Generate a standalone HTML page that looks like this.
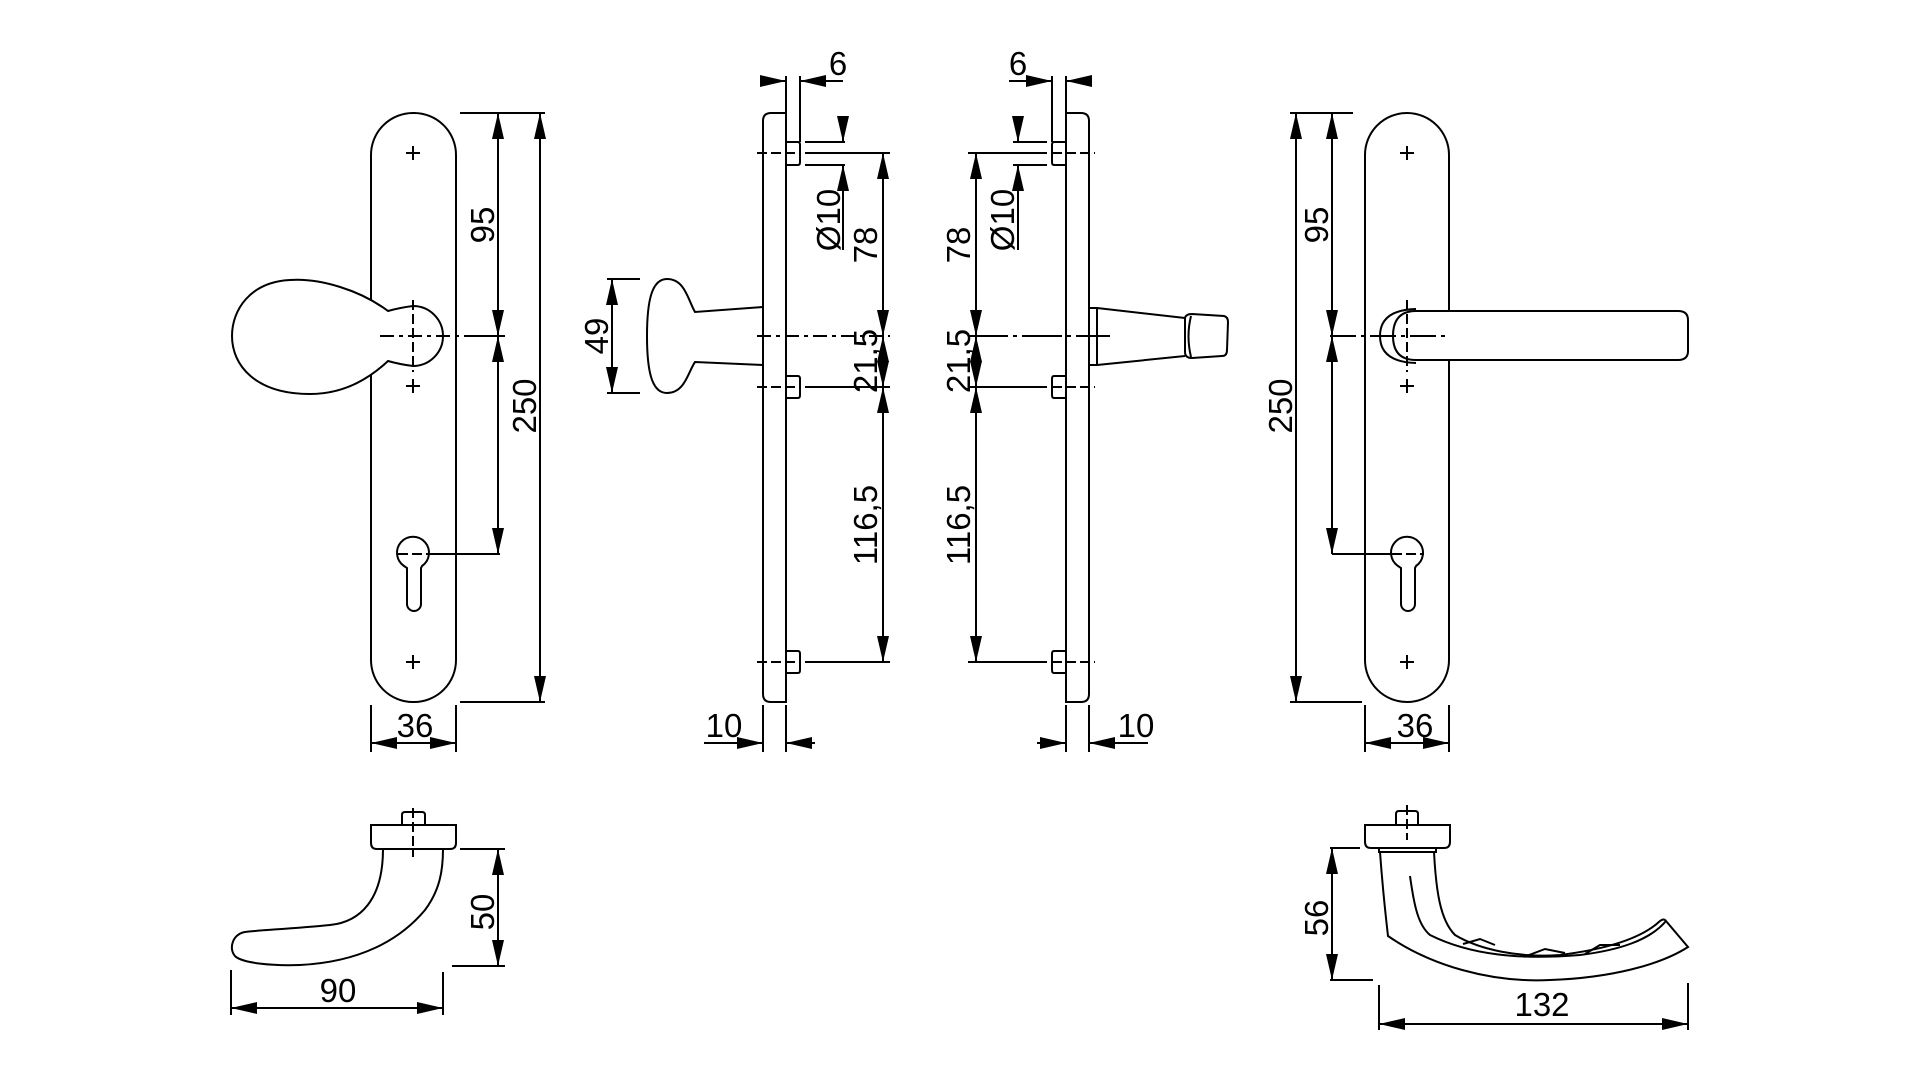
<!DOCTYPE html>
<html><head><meta charset="utf-8"><style>
html,body{margin:0;padding:0;background:#fff;}
svg{display:block}
text{font-family:"Liberation Sans",sans-serif;font-size:33px;fill:#000}
</style></head><body>
<svg width="1920" height="1080" viewBox="0 0 1920 1080" xmlns="http://www.w3.org/2000/svg">
<defs>
<marker id="a" markerUnits="userSpaceOnUse" markerWidth="30" markerHeight="14" refX="26" refY="6" orient="auto-start-reverse">
<path d="M0,0 L26,6 L0,12 Z" fill="#000"/>
</marker>
</defs>
<g fill="none" stroke="#000" stroke-width="2">

<!-- LEFT FRONT PLATE -->
<rect x="371" y="113" width="85" height="589" rx="42" ry="42"/>
<path d="M406,153h14M413,146v14M406,386h14M413,379v14M406,662h14M413,655v14"/>
<path d="M404,566 A16,16 0 1 1 422,566 L421,568 V604 A7,7 0 0 1 407,604 V568 Z"/>
<path d="M398,554h32" stroke-dasharray="10,4"/>
<!-- knob -->
<path d="M388,311 C360,290 320,278 290,280 C250,282 232,310 232,336 C232,365 255,394 310,394 C345,394 370,378 388,361 C395,363 405,365 413,366 A30,30 0 0 0 413,306 C405,307 395,309 388,311 Z" fill="#fff"/>
<path d="M380,336 H470" stroke-dasharray="14,5,4,5"/>
<path d="M413,300 V372" stroke-dasharray="10,4"/>
<!-- dims -->
<path d="M460,113 H545 M460,702 H545 M430,554 H500 M470,336 H505"/>
<path d="M498,113 V336" marker-start="url(#a)" marker-end="url(#a)"/>
<path d="M498,336 V554" marker-start="url(#a)" marker-end="url(#a)"/>
<path d="M540,113 V702" marker-start="url(#a)" marker-end="url(#a)"/>
<path d="M371,705 V752 M456,705 V752"/>
<path d="M371,743 H456" marker-start="url(#a)" marker-end="url(#a)"/>

<!-- MIDDLE LEFT SIDE VIEW -->
<path d="M786,113 H771 Q763,113 763,121 V694 Q763,702 771,702 H786 Z"/>
<path d="M786,142 H798 Q800,142 800,145 V162 Q800,165 798,165 H786"/>
<path d="M786,376 H798 Q800,376 800,379 V395 Q800,398 798,398 H786"/>
<path d="M786,651 H798 Q800,651 800,654 V670 Q800,673 798,673 H786"/>
<path d="M757,153 H800" stroke-dasharray="10,4"/>
<path d="M805,153 H890"/>
<path d="M805,142 H845 M805,165 H845"/>
<path d="M843,118 V142" marker-end="url(#a)"/>
<path d="M843,250 V165" marker-end="url(#a)"/>
<path d="M757,336 H890" stroke-dasharray="14,5,4,5"/>
<path d="M757,387 H800" stroke-dasharray="10,4"/><path d="M805,387 H890"/>
<path d="M757,662 H800" stroke-dasharray="10,4"/><path d="M805,662 H890"/>
<path d="M883,153 V336" marker-start="url(#a)" marker-end="url(#a)"/>
<path d="M883,336 V387" marker-start="url(#a)" marker-end="url(#a)"/>
<path d="M883,387 V662" marker-start="url(#a)" marker-end="url(#a)"/>
<path d="M786,76 V113 M800,76 V142"/>
<path d="M763,81 H786" marker-end="url(#a)"/>
<path d="M843,81 H800" marker-end="url(#a)"/>
<path d="M763,705 V752 M786,705 V752"/>
<path d="M704,743 H763" marker-end="url(#a)"/>
<path d="M815,743 H786" marker-end="url(#a)"/>
<!-- knob side -->
<path d="M763,307 L695,312 C688,300 685,279 667,279 C652,279 647,300 647,336 C647,372 652,393 667,393 C685,393 688,372 695,362 L763,365"/>
<path d="M607,279 H640 M607,393 H640"/>
<path d="M612,279 V393" marker-start="url(#a)" marker-end="url(#a)"/>

<!-- MIDDLE RIGHT SIDE VIEW -->
<path d="M1066,113 H1081 Q1089,113 1089,121 V694 Q1089,702 1081,702 H1066 Z"/>
<path d="M1066,142 H1054 Q1052,142 1052,145 V162 Q1052,165 1054,165 H1066"/>
<path d="M1066,376 H1054 Q1052,376 1052,379 V395 Q1052,398 1054,398 H1066"/>
<path d="M1066,651 H1054 Q1052,651 1052,654 V670 Q1052,673 1054,673 H1066"/>
<path d="M1052,153 H1095" stroke-dasharray="10,4"/>
<path d="M968,153 H1047"/>
<path d="M1013,142 H1047 M1013,165 H1047"/>
<path d="M1018,118 V142" marker-end="url(#a)"/>
<path d="M1018,250 V165" marker-end="url(#a)"/>
<path d="M968,336 H1110" stroke-dasharray="40,5,4,5"/>
<path d="M1052,387 H1095" stroke-dasharray="10,4"/><path d="M968,387 H1047"/>
<path d="M1052,662 H1095" stroke-dasharray="10,4"/><path d="M968,662 H1047"/>
<path d="M976,153 V336" marker-start="url(#a)" marker-end="url(#a)"/>
<path d="M976,336 V387" marker-start="url(#a)" marker-end="url(#a)"/>
<path d="M976,387 V662" marker-start="url(#a)" marker-end="url(#a)"/>
<path d="M1066,76 V113 M1052,76 V142"/>
<path d="M1089,81 H1066" marker-end="url(#a)"/>
<path d="M1009,81 H1052" marker-end="url(#a)"/>
<path d="M1089,705 V752 M1066,705 V752"/>
<path d="M1148,743 H1089" marker-end="url(#a)"/>
<path d="M1037,743 H1066" marker-end="url(#a)"/>
<!-- lever side -->
<path d="M1089,308 H1097 V365 H1089"/>
<path d="M1097,308 L1185,318 M1097,365 L1185,356"/>
<path d="M1185,318 Q1186,314 1192,314 L1224,316 Q1228,317 1228,322 L1227,350 Q1227,356 1222,356 L1192,358 Q1185,358 1185,352 Z"/>
<path d="M1191,316 Q1186,336 1191,357"/>

<!-- RIGHT FRONT PLATE -->
<rect x="1365" y="113" width="84" height="589" rx="42" ry="42"/>
<path d="M1400,153h14M1407,146v14M1400,386h14M1407,379v14M1400,662h14M1407,655v14"/>
<path d="M1398,566 A16,16 0 1 1 1416,566 L1415,568 V604 A7,7 0 0 1 1401,604 V568 Z"/>
<path d="M1392,554h32" stroke-dasharray="10,4"/>
<path d="M1416,311 H1678 Q1688,311 1688,320 V351 Q1688,360 1678,360 H1416 Q1393,360 1393,336 Q1393,311 1416,311 Z" fill="#fff"/>
<path d="M1416,309 Q1380,310 1380,336 Q1380,362 1416,363"/>
<path d="M1330,336 H1445" stroke-dasharray="26,5,4,5"/>
<path d="M1407,300 V372" stroke-dasharray="10,4"/>
<path d="M1290,113 H1353 M1290,702 H1362 M1332,554 H1400"/>
<path d="M1332,113 V336" marker-start="url(#a)" marker-end="url(#a)"/>
<path d="M1332,336 V554" marker-start="url(#a)" marker-end="url(#a)"/>
<path d="M1296,113 V702" marker-start="url(#a)" marker-end="url(#a)"/>
<path d="M1365,705 V752 M1449,705 V752"/>
<path d="M1365,743 H1449" marker-start="url(#a)" marker-end="url(#a)"/>

<!-- BOTTOM LEFT HANDLE -->
<path d="M402,825 V815 Q402,812 405,812 H422 Q425,812 425,815 V825"/>
<path d="M371,825 H456 V843 Q456,849 450,849 H377 Q371,849 371,843 Z"/>
<path d="M383,849 C383,900 360,922 330,925 C290,929 260,930 245,932 C232,934 228,950 236,957 C245,963 270,966 300,965 C360,962 400,940 425,910 C440,890 443,870 443,849"/>
<path d="M413,808 V857" stroke-dasharray="10,4"/>
<path d="M460,849 H505 M452,966 H505"/>
<path d="M498,849 V966" marker-start="url(#a)" marker-end="url(#a)"/>
<path d="M231,970 V1015 M443,972 V1015"/>
<path d="M231,1008 H443" marker-start="url(#a)" marker-end="url(#a)"/>

<!-- BOTTOM RIGHT HANDLE -->
<path d="M1396,825 V814 Q1396,811 1399,811 H1415 Q1418,811 1418,814 V825"/>
<path d="M1365,825 H1450 V842 Q1450,848 1444,848 H1371 Q1365,848 1365,842 Z"/>
<path d="M1379,848 H1436 V852 H1379 Z"/>
<path d="M1380,852 C1382,880 1385,910 1388,936 C1430,965 1490,983 1550,980 C1610,978 1660,965 1688,947 L1666,921 Q1664,918 1660,921 C1640,940 1600,950 1560,955 C1520,958 1480,950 1455,935 C1440,920 1436,890 1434,852"/>
<path d="M1410,876 C1414,905 1418,925 1430,935 C1470,955 1520,960 1580,955 C1620,950 1650,940 1666,921"/>
<path d="M1463,944 L1480,939 L1495,945 M1524,957 L1545,949 L1565,953 M1585,954 L1600,945 L1620,945"/>
<path d="M1407,805 V840" stroke-dasharray="10,4"/>
<path d="M1330,848 H1360 M1330,980 H1373"/>
<path d="M1332,848 V980" marker-start="url(#a)" marker-end="url(#a)"/>
<path d="M1379,985 V1030 M1688,983 V1030"/>
<path d="M1379,1024 H1688" marker-start="url(#a)" marker-end="url(#a)"/>
</g>

<!-- LABELS -->
<text transform="translate(494,225) rotate(-90)" text-anchor="middle">95</text>
<text transform="translate(536,406) rotate(-90)" text-anchor="middle">250</text>
<text x="415" y="737" text-anchor="middle">36</text>
<text x="838" y="75" text-anchor="middle">6</text>
<text transform="translate(840,220) rotate(-90)" text-anchor="middle">Ø10</text>
<text transform="translate(877,245) rotate(-90)" text-anchor="middle">78</text>
<text transform="translate(877,361) rotate(-90)" text-anchor="middle">21,5</text>
<text transform="translate(877,525) rotate(-90)" text-anchor="middle">116,5</text>
<text transform="translate(608,336) rotate(-90)" text-anchor="middle">49</text>
<text x="724" y="737" text-anchor="middle">10</text>

<text x="1018" y="75" text-anchor="middle">6</text>
<text transform="translate(1014,220) rotate(-90)" text-anchor="middle">Ø10</text>
<text transform="translate(970,245) rotate(-90)" text-anchor="middle">78</text>
<text transform="translate(970,361) rotate(-90)" text-anchor="middle">21,5</text>
<text transform="translate(970,525) rotate(-90)" text-anchor="middle">116,5</text>
<text x="1136" y="737" text-anchor="middle">10</text>

<text transform="translate(1328,225) rotate(-90)" text-anchor="middle">95</text>
<text transform="translate(1292,406) rotate(-90)" text-anchor="middle">250</text>
<text x="1415" y="737" text-anchor="middle">36</text>

<text transform="translate(494,912) rotate(-90)" text-anchor="middle">50</text>
<text x="338" y="1002" text-anchor="middle">90</text>
<text transform="translate(1328,918) rotate(-90)" text-anchor="middle">56</text>
<text x="1542" y="1016" text-anchor="middle">132</text>
</svg>
</body></html>
